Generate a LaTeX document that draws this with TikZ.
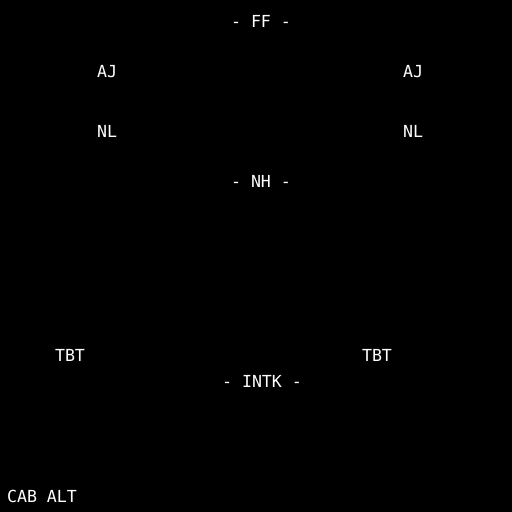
\documentclass[tikz,border=0pt]{standalone}
\usepackage{fontspec}
\setmonofont{DejaVu Sans Mono}
\begin{document}
\begin{tikzpicture}[x=1pt,y=-1pt,
  lbl/.style={text=white,inner sep=0pt,anchor=base,font=\ttfamily\fontsize{16.6}{18}\selectfont}]
\fill[black] (0,0) rectangle (512,512);
\useasboundingbox (0,0) rectangle (512,512);
\node[lbl] (ff) at (261,27) {- FF -};
\node[lbl] (ajl) at (107,77) {AJ};
\node[lbl] (ajr) at (413,77) {AJ};
\node[lbl] (nll) at (107,137) {NL};
\node[lbl] (nlr) at (413,137) {NL};
\node[lbl] (nh) at (261,187) {- NH -};
\node[lbl] (tbtl) at (70,361) {TBT};
\node[lbl] (tbtr) at (377,361) {TBT};
\node[lbl] (intk) at (262,387) {- INTK -};
\node[lbl] (cab) at (42,502) {CAB ALT};
\end{tikzpicture}
\end{document}
